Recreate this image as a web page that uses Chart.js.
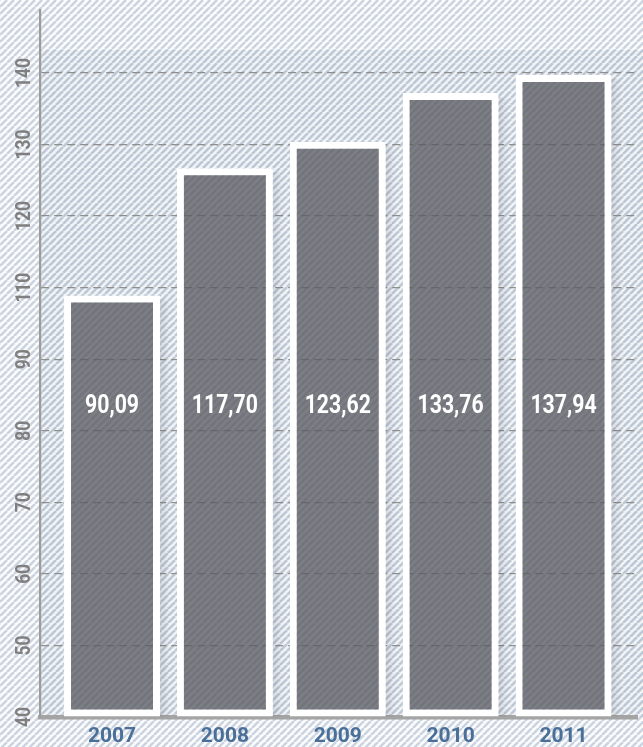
<!DOCTYPE html>
<html>
<head>
<meta charset="utf-8">
<style>
  html, body { margin: 0; padding: 0; background: #ffffff; }
  #wrap { width: 643px; height: 747px; }
</style>
<script src="https://cdn.jsdelivr.net/npm/chart.js@4/dist/chart.umd.min.js"></script>
</head>
<body>
<div id="wrap"><canvas id="c" width="643" height="747"></canvas></div>
<script>
// ---- data ----
const years = ['2007', '2008', '2009', '2010', '2011'];
const values = [90.09, 117.70, 123.62, 133.76, 137.94];
// bar tops as drawn, read in gridline steps above the 40 baseline
const barHeights = [5.89, 7.67, 8.04, 8.72, 8.97];
const yTickLabels = ['40', '50', '60', '70', '80', '90', '110', '120', '130', '140'];

const canvas = document.getElementById('c');
const ctx0 = canvas.getContext('2d');

function makeHatch(bg, fg, size, lw) {
  const c = document.createElement('canvas');
  c.width = size; c.height = size;
  const g = c.getContext('2d');
  if (bg) { g.fillStyle = bg; g.fillRect(0, 0, size, size); }
  g.strokeStyle = fg; g.lineWidth = lw;
  g.beginPath();
  for (let k = -1; k <= 1; k++) { g.moveTo(k * size, size); g.lineTo(k * size + size, 0); }
  g.stroke();
  return ctx0.createPattern(c, 'repeat');
}

const bgHatch = makeHatch('#fcfcfd', '#cbd4e0', 7, 2.6);
const plotHatch = makeHatch('#f2f3f5', '#bdc8d7', 7, 2.6);

const backgroundPlugin = {
  id: 'bg',
  beforeDraw(chart) {
    const { ctx, chartArea } = chart;
    ctx.save();
    ctx.fillStyle = bgHatch;
    ctx.fillRect(0, 0, chart.width, chart.height);
    ctx.fillStyle = plotHatch;
    ctx.fillRect(chartArea.left, 50, chart.width - chartArea.left, chartArea.bottom - 50);
    ctx.restore();
  }
};

const shadowPlugin = {
  id: 'barShadow',
  beforeDatasetsDraw(chart) {
    const { ctx } = chart;
    const meta = chart.getDatasetMeta(0);
    ctx.save();
    meta.data.forEach(el => {
      const right = el.x + el.width / 2;
      const g = ctx.createLinearGradient(right, 0, right + 10, 0);
      g.addColorStop(0, 'rgba(60,60,70,0.14)');
      g.addColorStop(1, 'rgba(60,60,70,0)');
      ctx.fillStyle = g;
      ctx.fillRect(right, el.y + 4, 10, el.base - el.y - 4);
    });
    ctx.restore();
  }
};

function narrowText(ctx, text, x, y, sx) {
  ctx.save();
  ctx.translate(x, y);
  ctx.scale(sx, 1);
  ctx.fillText(text, 0, 0);
  ctx.restore();
}

const labelsPlugin = {
  id: 'valueLabels',
  afterDatasetsDraw(chart) {
    const { ctx } = chart;
    const meta = chart.getDatasetMeta(0);
    const yPx = chart.scales.y.getPixelForValue(4.33);
    ctx.save();
    ctx.fillStyle = '#ffffff';
    ctx.font = "bold 25px Roboto";
    ctx.textAlign = 'center';
    ctx.textBaseline = 'middle';
    meta.data.forEach((el, i) => {
      narrowText(ctx, values[i].toFixed(2).replace('.', ','), el.x, yPx, 0.85);
    });
    ctx.restore();
  },
  afterDraw(chart) {
    const { ctx } = chart;
    const ys = chart.scales.y;
    ctx.save();
    ctx.fillStyle = '#7f7f7f';
    ctx.font = "bold 20px Roboto";
    ctx.textAlign = 'center';
    ctx.textBaseline = 'middle';
    ys.ticks.forEach(t => {
      const py = ys.getPixelForValue(t.value);
      ctx.save();
      ctx.translate(25, py);
      ctx.rotate(-Math.PI / 2);
      ctx.scale(0.87, 1);
      ctx.fillText(yTickLabels[t.value], 0, 0);
      ctx.restore();
    });
    ctx.restore();
  }
};

new Chart(canvas, {
  type: 'bar',
  data: {
    datasets: [{
      data: barHeights.map((h, i) => ({ x: i, y: h })),
      backgroundColor: 'rgba(88,89,94,0.76)',
      borderColor: '#ffffff',
      borderWidth: 7,
      borderSkipped: false,
      barPercentage: 0.85,
      categoryPercentage: 1.0
    }]
  },
  options: {
    responsive: false,
    animation: false,
    devicePixelRatio: 1,
    layout: { padding: { left: 40, right: 6, top: 10, bottom: 0 } },
    plugins: { legend: { display: false }, tooltip: { enabled: false } },
    scales: {
      x: {
        type: 'linear',
        offset: false,
        min: -0.638,
        max: 4.651,
        z: 1,
        afterBuildTicks: s => { s.ticks = years.map((_, i) => ({ value: i })); },
        afterFit: s => { s.height = 30; },
        grid: { display: false, drawTicks: false },
        border: { display: true, color: '#a4a4a4', width: 4.5 },
        ticks: {
          padding: 7,
          maxRotation: 0,
          autoSkip: false,
          color: '#4a6f98',
          font: { family: 'Roboto', weight: 'bold', size: 21 },
          callback: v => years[v] ?? ''
        }
      },
      y: {
        type: 'linear',
        min: 0,
        max: 9.88,
        afterBuildTicks: s => { s.ticks = yTickLabels.map((_, i) => ({ value: i })); },
        grid: { color: '#8e8e8e', lineWidth: 1.2, drawTicks: false },
        border: { display: true, color: '#9c9c9c', width: 2.2, dash: [8, 5] },
        ticks: { display: false }
      }
    }
  },
  plugins: [backgroundPlugin, shadowPlugin, labelsPlugin]
});
</script>
</body>
</html>
